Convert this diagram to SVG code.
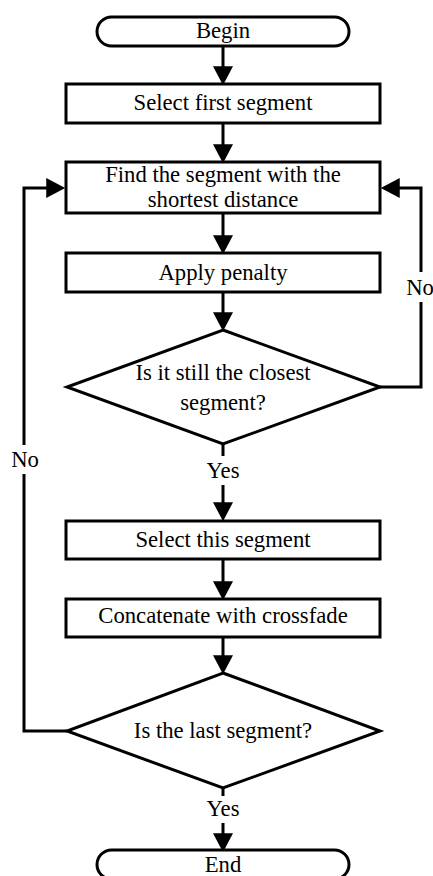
<svg xmlns="http://www.w3.org/2000/svg" width="433" height="876" viewBox="0 0 433 876">
<defs>
<style>
.shape{fill:#fff;stroke:#000;stroke-width:3}
.conn{fill:none;stroke:#000;stroke-width:3}
text{font-family:"Liberation Serif","Times New Roman",serif;font-size:22.7px;fill:#000;text-anchor:middle}
</style>
<marker id="ah" markerUnits="userSpaceOnUse" markerWidth="20" markerHeight="20" viewBox="0 0 18 19" refX="14" refY="9.5" orient="auto">
<path d="M0,0 L18,9.5 L0,19 z" fill="#000"/>
</marker>
</defs>
<rect width="433" height="876" fill="#fff"/>
<g id="connectors">
<path class="conn" d="M223,46 V81" marker-end="url(#ah)"/>
<path class="conn" d="M223,123 V159" marker-end="url(#ah)"/>
<path class="conn" d="M223,213 V250" marker-end="url(#ah)"/>
<path class="conn" d="M223,292 V327" marker-end="url(#ah)"/>
<path class="conn" d="M223,443 V456 M223,485 V517" marker-end="url(#ah)"/>
<path class="conn" d="M223,559 V596" marker-end="url(#ah)"/>
<path class="conn" d="M223,637 V670" marker-end="url(#ah)"/>
<path class="conn" d="M223,788 V796 M223,823 V848" marker-end="url(#ah)"/>
<path class="conn" d="M380,387 H421 V302 M421,272 V188 H385" marker-end="url(#ah)"/>
<path class="conn" d="M67,731 H24 V474 M24,445 V188 H61" marker-end="url(#ah)"/>
<text x="420" y="295">No</text>
<text x="25" y="467">No</text>
<text x="223" y="478">Yes</text>
<text x="223" y="816">Yes</text>
</g>
<g id="begin">
<rect class="shape" x="97" y="17" width="252" height="29" rx="14.5"/>
<text x="223" y="38">Begin</text>
</g>
<g id="select-first">
<rect class="shape" x="66" y="84" width="314" height="39"/>
<text x="223" y="110">Select first segment</text>
</g>
<g id="find">
<rect class="shape" x="66" y="162" width="314" height="51"/>
<text x="223" y="182">Find the segment with the</text>
<text x="223" y="207">shortest distance</text>
</g>
<g id="apply">
<rect class="shape" x="66" y="253" width="314" height="39"/>
<text x="223" y="280">Apply penalty</text>
</g>
<g id="decision1">
<polygon class="shape" points="223,330 380,387 223,444 67,387"/>
<text x="223" y="380">Is it still the closest</text>
<text x="223" y="410">segment?</text>
</g>
<g id="select-this">
<rect class="shape" x="66" y="521" width="314" height="38"/>
<text x="223" y="547">Select this segment</text>
</g>
<g id="concat">
<rect class="shape" x="66" y="599" width="314" height="38"/>
<text x="223" y="623">Concatenate with crossfade</text>
</g>
<g id="decision2">
<polygon class="shape" points="223,673 380,731 223,788 67,731"/>
<text x="223" y="738">Is the last segment?</text>
</g>
<g id="end">
<rect class="shape" x="97" y="850" width="252" height="29" rx="14.5"/>
<text x="223" y="872">End</text>
</g>
</svg>
